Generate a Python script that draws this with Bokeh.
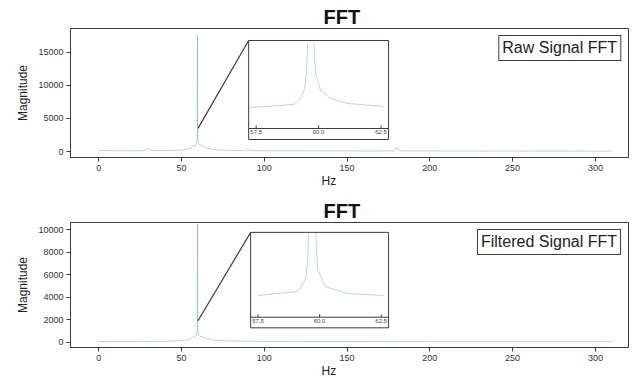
import numpy as np
from bokeh.plotting import figure
from bokeh.layouts import column
from bokeh.models import Range1d, FixedTicker, Legend, LegendItem, Title
from bokeh.embed import file_html
from bokeh.resources import INLINE

# ---------------- data ----------------
raw_freq = [0, 10, 20, 28, 29, 30, 31, 32, 40, 50, 55,
            57.28, 59.0, 59.28, 59.44, 59.52, 59.56, 59.68, 59.8, 59.88, 60.08, 60.48, 61.16, 62.6,
            65, 70, 80, 88, 89, 90, 91, 92, 100, 120, 140, 160, 170,
            178, 179, 180, 181, 182, 190, 220, 250, 280, 310]
raw_mag = [150, 120, 110, 130, 220, 480, 220, 130, 140, 200, 420,
           836, 955, 1194, 1592, 2308, 3390, 17600, 3390, 2189, 1512, 1194, 995, 876,
           520, 280, 160, 130, 200, 400, 200, 130, 110, 100, 90, 85, 85,
           90, 220, 680, 220, 90, 80, 75, 70, 65, 60]

filt_freq = [0, 10, 20, 30, 40, 50, 55,
             57.48, 59.11, 59.43, 59.51, 59.55, 59.7, 59.84, 59.92, 60.24, 61.14, 62.6,
             65, 70, 80, 100, 150, 200, 250, 310]
filt_mag = [60, 50, 50, 60, 70, 120, 250,
            486, 575, 840, 1215, 1879, 10500, 1879, 1061, 685, 530, 486,
            300, 170, 100, 60, 50, 45, 40, 40]

x_ticks = [0, 50, 100, 150, 200, 250, 300]
raw_y_ticks = [0, 5000, 10000, 15000]
filt_y_ticks = [0, 2000, 4000, 6000, 8000, 10000]

inset_xlim = (57.2, 62.8)
inset_ticks = [57.5, 60.0, 62.5]
inset_tick_labels = ["57.5", "60.0", "62.5"]
raw_inset_ylim = (0, 3500)
filt_inset_ylim = (0, 1900)
zoom_center = 60.0

titles = ["FFT", "FFT"]
x_label = "Hz"
y_label = "Magnitude"
legend_labels = ["Raw Signal FFT", "Filtered Signal FFT"]

LINE_COLOR = "#1f77b4"
LINE_ALPHA = 0.32
DARK = "#3a3a3a"
FONT = "Liberation Sans"


def make_panel(freq, mag, title, legend_label, y_range, y_ticks, inset_ylim,
               inset_x_target, inset_y_target, height, border_top, border_bottom):
    p = figure(width=632, height=height, x_range=Range1d(-17, 320), y_range=Range1d(*y_range),
               output_backend="svg", toolbar_location=None,
               min_border_left=70, min_border_right=4,
               min_border_top=border_top, min_border_bottom=border_bottom)
    p.title.text = title
    p.title.align = "left"
    p.title.offset = 253
    p.title.text_font = FONT
    p.title.text_font_size = "20px"
    p.title.text_font_style = "bold"
    p.title.text_color = "#111111"
    p.title.standoff = 2

    p.grid.visible = False
    p.outline_line_color = DARK
    p.outline_line_width = 1
    p.outline_line_alpha = 1
    p.background_fill_color = "white"
    p.border_fill_color = "white"

    for ax in (p.xaxis[0], p.yaxis[0]):
        ax.axis_line_color = DARK
        ax.major_tick_line_color = DARK
        ax.major_tick_out = 4
        ax.major_tick_in = 0
        ax.minor_tick_line_color = None
        ax.major_label_text_font = FONT
        ax.major_label_text_font_size = "9px"
        ax.major_label_text_color = "#333333"
        ax.major_label_standoff = 3
    p.xaxis.ticker = FixedTicker(ticks=x_ticks)
    p.yaxis.ticker = FixedTicker(ticks=y_ticks)
    p.yaxis.axis_label = y_label
    p.yaxis.axis_label_text_font = FONT
    p.yaxis.axis_label_text_font_size = "12px"
    p.yaxis.axis_label_text_font_style = "normal"
    p.yaxis.axis_label_text_color = "#222222"
    p.yaxis.axis_label_standoff = 5

    # x-axis label (placed as in the picture, left of the frame centre)
    p.add_layout(Title(text=x_label, align="left", offset=251, standoff=-4,
                       text_font=FONT, text_font_size="12px", text_font_style="normal",
                       text_color="#222222"), "below")

    r = p.line(freq, mag, line_color=LINE_COLOR, line_alpha=LINE_ALPHA, line_width=1)

    # ---- zoomed inset ----
    y0, y1 = inset_ylim
    strip = 0.125 * (y1 - y0)
    sub = p.subplot(x_source=Range1d(*inset_xlim), y_source=Range1d(y0 - strip, y1),
                    x_target=Range1d(*inset_x_target), y_target=Range1d(*inset_y_target))
    sub.quad(left=[inset_xlim[0]], right=[inset_xlim[1]], bottom=[y0 - strip], top=[y1],
             fill_color="white", line_color=DARK, line_width=1)
    sub.segment(x0=[inset_xlim[0]], y0=[y0], x1=[inset_xlim[1]], y1=[y0],
                line_color=DARK, line_width=1)
    fa = np.array(freq, dtype=float)
    ma = np.array(mag, dtype=float)
    sel = (fa >= inset_xlim[0]) & (fa <= inset_xlim[1])
    mi = np.where(ma[sel] <= y1, ma[sel], np.nan)
    sub.line(fa[sel], mi, line_color=LINE_COLOR, line_alpha=LINE_ALPHA, line_width=1)
    tick_len = 0.035 * (y1 - y0)
    sub.segment(x0=inset_ticks, y0=[y0] * len(inset_ticks), x1=inset_ticks,
                y1=[y0 + tick_len] * len(inset_ticks), line_color=DARK, line_width=1)
    sub.text(x=inset_ticks, y=[y0] * len(inset_ticks), text=inset_tick_labels,
             text_font_size="6px", text_color="#444444", text_align="center",
             text_baseline="top", y_offset=2)

    # connector from the zoomed region to the inset corner
    p.segment(x0=[zoom_center], y0=[y1], x1=[inset_x_target[0]], y1=[inset_y_target[1]],
              line_color=DARK, line_width=1.2)

    legend = Legend(items=[LegendItem(label=legend_label, renderers=[r])],
                    location="top_right", glyph_width=0, glyph_height=14,
                    label_height=14, label_standoff=0, padding=3, margin=7,
                    label_text_font=FONT, label_text_font_size="16px",
                    label_text_color="#222222",
                    border_line_color=DARK, border_line_width=1, border_line_alpha=1,
                    background_fill_color="white", background_fill_alpha=1)
    p.add_layout(legend)
    return p


p1 = make_panel(raw_freq, raw_mag, titles[0], legend_labels[0], (-906, 18580), raw_y_ticks,
                raw_inset_ylim, (90.6, 175.1), (1813, 16768), 188, 28, 31)
p2 = make_panel(filt_freq, filt_mag, titles[1], legend_labels[1], (-482, 10658), filt_y_ticks,
                filt_inset_ylim, (91.8, 175.1), (1272, 9779), 190, 34, 31)

layout = column(p1, p2, spacing=0)
open("out.html", "w").write(file_html(layout, INLINE))
